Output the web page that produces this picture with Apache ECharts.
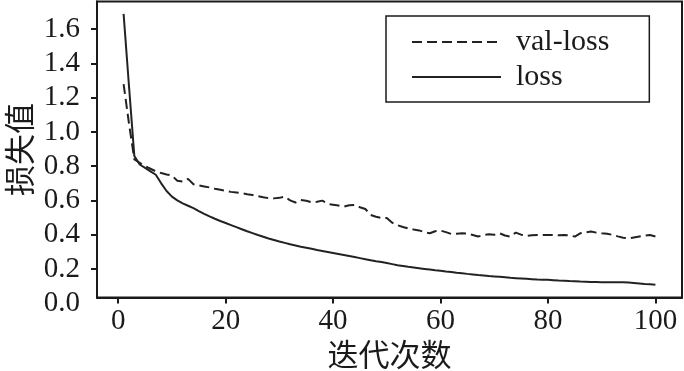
<!DOCTYPE html>
<html>
<head>
<meta charset="utf-8">
<script src="https://cdn.jsdelivr.net/npm/echarts@6/dist/echarts.min.js"></script>
<style>html,body{margin:0;padding:0;background:#fff}#c{width:684px;height:371px}</style>
</head>
<body>
<div id="c"></div>
<script>
const epochs = Array.from({length: 100}, (_, i) => i + 1);
const loss = [
1.69,1.27,0.86,0.81,0.79,0.77,0.75,0.70,0.655,0.622,
0.60,0.583,0.569,0.555,0.538,0.522,0.507,0.493,0.480,0.468,
0.456,0.444,0.432,0.420,0.409,0.398,0.388,0.378,0.369,0.360,
0.352,0.344,0.337,0.330,0.324,0.318,0.311,0.305,0.299,0.293,
0.287,0.281,0.275,0.269,0.263,0.257,0.251,0.245,0.240,0.234,
0.228,0.222,0.217,0.212,0.208,0.204,0.200,0.196,0.192,0.189,
0.185,0.182,0.178,0.175,0.171,0.168,0.164,0.161,0.158,0.156,
0.154,0.151,0.148,0.146,0.144,0.142,0.140,0.138,0.137,0.136,
0.134,0.132,0.131,0.129,0.128,0.126,0.125,0.124,0.123,0.122,
0.122,0.122,0.122,0.122,0.121,0.118,0.115,0.112,0.110,0.108
];
const valLoss = [
1.28,1.05,0.84,0.82,0.80,0.785,0.77,0.76,0.752,0.745,
0.715,0.71,0.726,0.695,0.688,0.682,0.676,0.668,0.662,0.656,
0.650,0.646,0.642,0.636,0.632,0.625,0.618,0.613,0.612,0.615,
0.622,0.600,0.588,0.603,0.598,0.590,0.592,0.599,0.580,0.575,
0.570,0.564,0.572,0.574,0.560,0.550,0.515,0.505,0.498,0.497,
0.470,0.455,0.445,0.436,0.430,0.425,0.415,0.408,0.420,0.424,
0.415,0.404,0.406,0.408,0.407,0.398,0.389,0.398,0.402,0.400,
0.408,0.395,0.389,0.412,0.400,0.393,0.396,0.398,0.398,0.398,
0.398,0.397,0.398,0.395,0.389,0.408,0.414,0.418,0.412,0.408,
0.405,0.399,0.390,0.382,0.379,0.384,0.389,0.394,0.398,0.389
];
const xTicks = [0, 20, 40, 60, 80, 100];
const yTicks = [0.2, 0.4, 0.6, 0.8, 1.0, 1.2, 1.4, 1.6];
const yExtraLabel = 0.0;
const xName = '迭代次数';
const yName = '损失值';

const FONT = '"Liberation Serif", "Noto Sans CJK SC", serif';
const INK = '#1a1a1a';
const X_MIN = -3.95, X_MAX = 104.95, Y_MIN = 0.033, Y_MAX = 1.762;

const chart = echarts.init(document.getElementById('c'), null, {renderer: 'canvas'});
const option = {
  animation: false,
  backgroundColor: '#fff',
  grid: {
    left: 97, right: 2, top: 1.5, bottom: 73.5,
    outerBoundsMode: 'none', containLabel: false,
    show: true, borderColor: INK, borderWidth: 2, backgroundColor: 'transparent'
  },
  legend: {
    data: ['val-loss', 'loss'],
    orient: 'vertical',
    left: 386, top: 16,
    padding: [11, 40, 10, 25],
    borderColor: INK, borderWidth: 1.5,
    itemWidth: 89, itemHeight: 14, itemGap: 5,
    itemStyle: {opacity: 0},
    textStyle: {fontFamily: FONT, fontSize: 30, color: INK, lineHeight: 30, padding: [0, 0, 0, 10]}
  },
  xAxis: {
    type: 'value', min: X_MIN, max: X_MAX,
    splitLine: {show: false},
    axisLine: {show: true, onZero: false, lineStyle: {color: INK, width: 2}},
    axisTick: {show: true, inside: false, length: 6, customValues: xTicks, lineStyle: {color: INK, width: 2}},
    axisLabel: {customValues: xTicks, fontFamily: FONT, fontSize: 29, color: INK, margin: 9},
    name: xName, nameLocation: 'middle', nameGap: 45, nameMoveOverlap: false,
    nameTextStyle: {fontFamily: FONT, fontSize: 31, color: INK}
  },
  yAxis: {
    type: 'value', min: Y_MIN, max: Y_MAX,
    splitLine: {show: false},
    axisLine: {show: true, onZero: false, lineStyle: {color: INK, width: 2}},
    axisTick: {show: true, inside: false, length: 6, customValues: yTicks, lineStyle: {color: INK, width: 2}},
    axisLabel: {customValues: yTicks, fontFamily: FONT, fontSize: 29, color: INK, margin: 17,
      formatter: v => v.toFixed(1)},
    name: yName, nameLocation: 'middle', nameGap: 59, nameMoveOverlap: false,
    nameTextStyle: {fontFamily: FONT, fontSize: 31, color: INK}
  },
  series: [
    {
      name: 'val-loss', type: 'line', symbol: 'none', showSymbol: false,
      data: epochs.map((e, i) => [e, valLoss[i]]),
      lineStyle: {color: '#222', width: 2, type: [10, 5]},
      itemStyle: {color: '#222'}
    },
    {
      name: 'loss', type: 'line', symbol: 'none', showSymbol: false,
      data: epochs.map((e, i) => [e, loss[i]]),
      lineStyle: {color: '#222', width: 2, type: 'solid'},
      itemStyle: {color: '#222'}
    }
  ]
};
chart.setOption(option);

// the "0.0" label sits just below the plotted range in the reference; place it through the axis scale
const gl = chart.convertToPixel({xAxisIndex: 0}, X_MIN);
const py0 = chart.convertToPixel({yAxisIndex: 0}, yExtraLabel);
chart.setOption({
  graphic: [{
    type: 'text', id: 'y0', x: gl - 17, y: py0,
    style: {text: yExtraLabel.toFixed(1), font: '29px ' + FONT, fill: INK, align: 'right', verticalAlign: 'middle'}
  }]
});
</script>
</body>
</html>
